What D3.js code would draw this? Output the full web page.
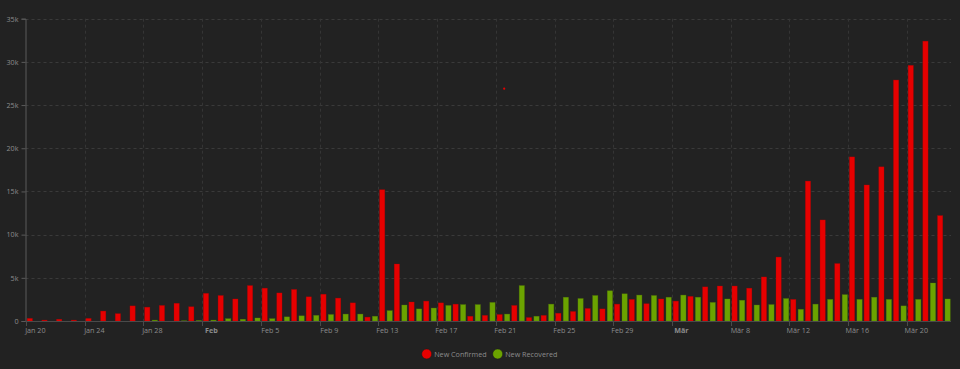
<!DOCTYPE html>
<html>
<head>
<meta charset="utf-8">
<script src="https://cdn.jsdelivr.net/npm/d3@7"></script>
<style>
  html, body { margin: 0; padding: 0; background: #222222; }
  svg { display: block; }
  text { font-family: "Open Sans", Roboto, sans-serif; }
</style>
</head>
<body>
<svg id="chart" width="960" height="369"></svg>
<script>
// ---- data ----
const startDate = "2020-01-20";
const dayCount = 63; // Jan 20 .. Mar 22
const newConfirmed = [
  300, 100, 200, 100, 300, 1150, 850, 1750, 1600, 1800, 2050, 1650,
  3200, 2950, 2550, 4100, 3800, 3250, 3650, 2800, 3100, 2650, 2100, 450, 15200, 6600,
  2200, 2300, 2100, 1950, 550, 650, 750, 1800, 400, 650, 900, 1100, 1450, 1400, 1950,
  2500, 2000, 2550, 2300, 2850, 3950, 4050, 4050, 3800, 5100, 7400, 2500, 16200, 11700,
  6650, 19000, 15750, 17850, 27900, 29600, 32400, 12200
];
const newRecovered = [
  0, 0, 0, 0, 0, 0, 0, 0, 100, 0, 30, 50,
  100, 270, 200, 350, 270, 480, 600, 650, 750, 800, 800, 550, 1200, 1850,
  1400, 1500, 1800, 1900, 1900, 2150, 800, 4100, 550, 1950, 2750, 2600, 2950, 3500, 3150,
  3000, 2950, 2750, 3000, 2750, 2150, 2550, 2400, 1850, 1900, 2600, 1350, 1950, 2500,
  3050, 2500, 2750, 2500, 1750, 2500, 4400, 2550
];
const xTickDates = ["2020-01-20","2020-01-24","2020-01-28","2020-02-01","2020-02-05","2020-02-09",
  "2020-02-13","2020-02-17","2020-02-21","2020-02-25","2020-02-29","2020-03-04","2020-03-08",
  "2020-03-12","2020-03-16","2020-03-20"];
const xTickLabels = ["Jan 20","Jan 24","Jan 28","Feb","Feb 5","Feb 9","Feb 13","Feb 17","Feb 21",
  "Feb 25","Feb 29","Mär","Mär 8","Mär 12","Mär 16","Mär 20"];
const boldTicks = ["Feb","Mär"];
const yTicks = [0, 5000, 10000, 15000, 20000, 25000, 30000, 35000];
const seriesNames = ["New Confirmed", "New Recovered"];
const seriesColors = ["#e60000", "#6ba300"];
const strayPoint = { date: "2020-02-21", value: 26900 };

// ---- build ----
const parse = d3.timeParse("%Y-%m-%d");
const fmtKey = d3.timeFormat("%Y-%m-%d");
const dates = d3.timeDay.range(parse(startDate), d3.timeDay.offset(parse(startDate), dayCount));
const rows = dates.map((d, i) => ({ key: fmtKey(d), date: d, c: newConfirmed[i], r: newRecovered[i] }));

const svg = d3.select("#chart");
const W = 960, H = 369;
const plot = { left: 25.5, top: 18.7, right: 951, bottom: 321 };
const cellStart = 26;

const x = d3.scaleBand().domain(rows.map(r => r.key)).range([cellStart, plot.right]).padding(0);
const cw = x.step();
const inner = d3.scaleBand().domain(["c","r"]).range([cw * 0.08, cw * 0.95]).paddingInner(0.3);
const y = d3.scaleLinear().domain([0, 35000]).range([plot.bottom, plot.top]);

// grid
const grid = svg.append("g");
grid.selectAll("line.h").data(yTicks.filter(v => v > 0)).join("line")
  .attr("x1", plot.left).attr("x2", plot.right)
  .attr("y1", d => Math.round(y(d)) + 0.5).attr("y2", d => Math.round(y(d)) + 0.5)
  .attr("stroke", "#3a3a3a").attr("stroke-width", 1).attr("stroke-dasharray", "3,3");
grid.selectAll("line.v").data(xTickDates.slice(1)).join("line")
  .attr("x1", d => Math.round(x(d)) + 0.5).attr("x2", d => Math.round(x(d)) + 0.5)
  .attr("y1", plot.top).attr("y2", plot.bottom)
  .attr("stroke", "#353535").attr("stroke-width", 1).attr("stroke-dasharray", "3,3");

// bars
const bars = svg.append("g");
bars.selectAll("rect.c").data(rows).join("rect")
  .attr("x", d => x(d.key) + inner("c")).attr("width", inner.bandwidth())
  .attr("y", d => y(d.c)).attr("height", d => y(0) - y(d.c))
  .attr("fill", seriesColors[0]).attr("stroke", "#b00000").attr("stroke-opacity", 0.5).attr("stroke-width", 0.6);
bars.selectAll("rect.r").data(rows).join("rect")
  .attr("x", d => x(d.key) + inner("r")).attr("width", inner.bandwidth())
  .attr("y", d => y(d.r)).attr("height", d => y(0) - y(d.r))
  .attr("fill", seriesColors[1]).attr("stroke", "#557f00").attr("stroke-opacity", 0.5).attr("stroke-width", 0.6);

// stray marker
svg.append("circle")
  .attr("cx", x(strayPoint.date) + cw / 2 + 1).attr("cy", y(strayPoint.value))
  .attr("r", 1.1).attr("fill", seriesColors[0]);

// y axis
const yAxis = d3.axisLeft(y).tickValues(yTicks).tickFormat(d3.format("~s")).tickSize(4).tickPadding(3);
const ya = svg.append("g").attr("transform", `translate(${plot.left},0)`).call(yAxis);
ya.select(".domain").attr("stroke", "#5a5a5a");
ya.selectAll(".tick line").attr("stroke", "#5a5a5a");
ya.selectAll(".tick text").attr("fill", "#8c8c8c").attr("font-size", 7.2)
  .attr("font-family", "'Open Sans', Roboto, sans-serif");

// x axis
svg.append("line").attr("x1", plot.left).attr("x2", plot.right)
  .attr("y1", plot.bottom + 0.5).attr("y2", plot.bottom + 0.5).attr("stroke", "#4a4a4a");
const xt = svg.append("g").selectAll("g").data(xTickDates).join("g")
  .attr("transform", d => `translate(${Math.round(x(d)) + 0.5},0)`);
xt.append("line").attr("y1", plot.bottom).attr("y2", plot.bottom + 5).attr("stroke", "#4a4a4a");
xt.append("text")
  .attr("x", cw / 2 + 1.5).attr("y", plot.bottom + 11.5)
  .attr("text-anchor", "middle").attr("fill", "#8c8c8c").attr("font-size", 7.2)
  .attr("font-weight", (d, i) => boldTicks.includes(xTickLabels[i]) ? "bold" : "normal")
  .text((d, i) => xTickLabels[i]);

// legend
const legendX = [426.7, 497.7];
const lg = svg.append("g").selectAll("g").data(seriesNames).join("g")
  .attr("transform", (d, i) => `translate(${legendX[i]},354)`);
lg.append("circle").attr("r", 5).attr("fill", (d, i) => seriesColors[i])
  .attr("stroke", "#1a1a1a").attr("stroke-width", 0.5);
lg.append("text").attr("x", 7.5).attr("y", 2.5).attr("fill", "#8c8c8c")
  .attr("font-size", 7.2).text(d => d);
</script>
</body>
</html>
